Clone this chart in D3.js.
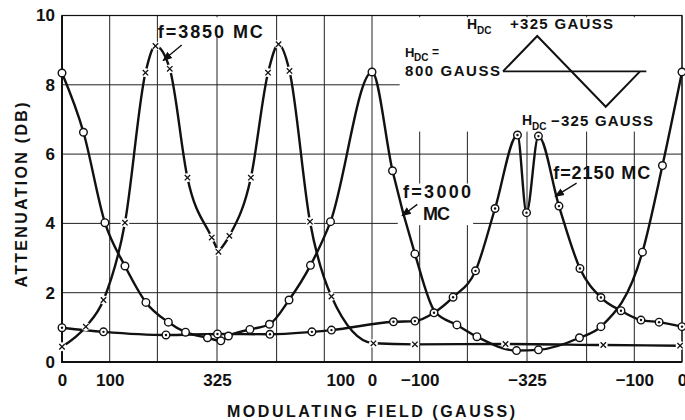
<!DOCTYPE html>
<html>
<head>
<meta charset="utf-8">
<script src="https://cdn.jsdelivr.net/npm/d3@7"></script>
<style>
  body { margin: 0; background: #fff; }
  svg { display: block; }
  text { font-family: "Liberation Sans", Arial, sans-serif; font-weight: bold; fill: #111; }
</style>
</head>
<body>
<div id="chart"></div>
<script>
// x = position along one modulation sweep: 0 -> +325 -> 0 -> -325 -> 0 gauss
const sweepTicks = [0, 100, 325, 550, 650, 750, 975, 1200, 1300]
const sweepTickLabels = ['0', '100', '325', '100', '0', '−100', '−325', '−100', '0']
const sweepGrid = [0, 100, 200, 325, 450, 550, 650, 750, 850, 975, 1100, 1200, 1300]
const attenTicks = [0, 2, 4, 6, 8, 10]
const attenGrid = [2, 4, 6, 8]

// f = 3850 MC (x marks)
const f3850Sweep = [0, 50, 87, 132, 175, 196, 226, 263, 314, 328, 351, 396, 432, 454, 477, 520, 565, 653, 740, 930, 1135, 1296]
const f3850Atten = [0.44, 1.02, 1.79, 4.02, 8.35, 9.12, 8.46, 5.32, 3.59, 3.18, 3.64, 5.32, 8.35, 9.17, 8.40, 4.05, 1.89, 0.54, 0.51, 0.52, 0.49, 0.47]

// f = 3000 MC (open circles)
const f3000Sweep = [0, 45, 90, 132, 176, 223, 259, 305, 333, 349, 394, 435, 476, 521, 563, 650, 693, 740, 828, 870, 953, 999, 1085, 1130, 1217, 1259, 1300]
const f3000Atten = [8.34, 6.63, 4.02, 2.77, 1.72, 1.15, 0.86, 0.70, 0.61, 0.75, 0.94, 1.09, 1.79, 2.79, 4.05, 8.37, 5.52, 3.12, 1.07, 0.73, 0.33, 0.35, 0.70, 1.02, 3.17, 5.67, 8.37]
// where the drawn 3000 MC trace passes between two far-apart points (no mark there)
const f3000TraceSweep = [782]
const f3000TraceAtten = [1.45]

// f = 2150 MC (dotted circles)
const f2150Sweep = [0, 87, 218, 326, 436, 524, 565, 695, 740, 780, 820, 867, 908, 955, 974, 999, 1042, 1086, 1130, 1172, 1214, 1252, 1300]
const f2150Atten = [0.99, 0.87, 0.78, 0.81, 0.80, 0.87, 0.92, 1.16, 1.18, 1.42, 1.87, 2.63, 4.43, 6.55, 4.31, 6.52, 4.50, 2.70, 1.86, 1.48, 1.21, 1.15, 1.02]

// inset: modulating waveform about H_DC = 800 gauss
const insetSweep = [0, 325, 975, 1300]
const insetField = [0, 325, -325, 0]

const width = 685, height = 420
const margin = { top: 15.5, right: 3, bottom: 58, left: 62 }
const ink = '#111'

const svg = d3.select('#chart').append('svg')
  .attr('width', width)
  .attr('height', height)

const x = d3.scaleLinear().domain([0, 1300]).range([margin.left, width - margin.right])
const y = d3.scaleLinear().domain([0, 10]).range([height - margin.bottom, margin.top])

// grid
const grid = svg.append('g').attr('stroke', '#222').attr('stroke-width', 1)
grid.selectAll('.hg').data(attenGrid).enter().append('line')
  .attr('x1', x(0)).attr('x2', x(1300))
  .attr('y1', d => y(d)).attr('y2', d => y(d))
grid.selectAll('.vg').data(sweepGrid).enter().append('line')
  .attr('x1', d => x(d)).attr('x2', d => x(d))
  .attr('y1', y(10)).attr('y2', y(0))

// white areas where the lettering sits on the original sheet
const masks = [
  { t0: 708, t1: 1298, v0: 6.65, v1: 9.95 },   // inset
  { t0: 216, t1: 420, v0: 9.4, v1: 9.95 },     // f=3850 MC
  { t0: 704, t1: 862, v0: 3.95, v1: 5.15 }     // f=3000 MC
]
svg.selectAll('.mask').data(masks).enter().append('rect')
  .attr('x', d => x(d.t0)).attr('width', d => x(d.t1) - x(d.t0))
  .attr('y', d => y(d.v1)).attr('height', d => y(d.v0) - y(d.v1))
  .attr('fill', '#fff')

// frame
svg.append('rect')
  .attr('x', x(0)).attr('y', y(10))
  .attr('width', x(1300) - x(0)).attr('height', y(0) - y(10))
  .attr('fill', 'none').attr('stroke', ink).attr('stroke-width', 1.2)
svg.append('path')
  .attr('d', `M${x(0)},${y(10)}V${y(0)}H${x(1300)}`)
  .attr('fill', 'none').attr('stroke', ink).attr('stroke-width', 2)

// axes (labels only, the grid carries the ticks)
const xAxis = d3.axisBottom(x).tickValues(sweepTicks)
  .tickFormat((d, i) => sweepTickLabels[i]).tickSize(0).tickPadding(12)
const yAxis = d3.axisLeft(y).tickValues(attenTicks)
  .tickFormat(d3.format('d')).tickSize(0).tickPadding(7)

const gx = svg.append('g').attr('transform', `translate(0,${y(0)})`).call(xAxis)
const gy = svg.append('g').attr('transform', `translate(${x(0)},0)`).call(yAxis)
gx.select('.domain').remove()
gy.select('.domain').remove()
gx.attr('font-family', null)
gy.attr('font-family', null)
gx.selectAll('text').attr('font-size', 17).attr('fill', ink)
gy.selectAll('text').attr('font-size', 17).attr('fill', ink)
// the lettered "100" on the return sweep sits a little right of its grid line
gx.selectAll('text').filter((d, i) => i === 3).attr('dx', 16)

svg.append('text')
  .attr('x', 371).attr('y', 417)
  .attr('text-anchor', 'middle').attr('font-size', 16)
  .attr('textLength', 288)
  .text('MODULATING  FIELD (GAUSS)')

svg.append('text')
  .attr('transform', 'translate(27,195) rotate(-90)')
  .attr('text-anchor', 'middle').attr('font-size', 16)
  .attr('textLength', 185)
  .text('ATTENUATION (DB)')

// curves
const zip = (ts, vs) => ts.map((t, i) => ({ t, v: vs[i] }))
const s3850 = zip(f3850Sweep, f3850Atten)
const s3000 = zip(f3000Sweep, f3000Atten)
const s2150 = zip(f2150Sweep, f2150Atten)
const s3000Path = s3000.concat(zip(f3000TraceSweep, f3000TraceAtten)).sort((a, b) => a.t - b.t)

const line = d3.line().x(d => x(d.t)).y(d => y(d.v)).curve(d3.curveMonotoneX)
const curves = svg.append('g').attr('fill', 'none').attr('stroke', ink).attr('stroke-width', 2.4)

// the 3850 MC trace has a cusp at +325 gauss
const cusp = f3850Sweep.indexOf(328)
curves.append('path').attr('d', line(s3850.slice(0, cusp + 1)))
curves.append('path').attr('d', line(s3850.slice(cusp)))
curves.append('path').attr('d', line(s3000Path))
curves.append('path').attr('d', line(s2150))

// markers
const r = 3.8
const xm = svg.append('g').selectAll('g').data(s3850).enter().append('g')
  .attr('transform', d => `translate(${x(d.t)},${y(d.v)})`)
xm.append('circle').attr('r', 4.4).attr('fill', '#fff')
xm.append('path').attr('d', 'M-2.7,-2.7L2.7,2.7M-2.7,2.7L2.7,-2.7')
  .attr('stroke', ink).attr('stroke-width', 1.3)

svg.append('g').selectAll('circle').data(s3000).enter().append('circle')
  .attr('cx', d => x(d.t)).attr('cy', d => y(d.v)).attr('r', r)
  .attr('fill', '#fff').attr('stroke', ink).attr('stroke-width', 1.4)

const dm = svg.append('g').selectAll('g').data(s2150).enter().append('g')
  .attr('transform', d => `translate(${x(d.t)},${y(d.v)})`)
dm.append('circle').attr('r', r).attr('fill', '#fff').attr('stroke', ink).attr('stroke-width', 1.4)
dm.append('circle').attr('r', 1.2).attr('fill', ink)

// curve labels with pointer arrows
const labels = [
  { text: 'f=3850 MC', t: 201, v: 9.35, w: 105 },
  { text: 'f=3000', t: 715, v: 4.73, w: 68 },
  { text: 'MC', t: 757, v: 4.10, w: 27 },
  { text: 'f=2150 MC', t: 1030, v: 5.28, w: 97 }
]
svg.selectAll('.lbl').data(labels).enter().append('text')
  .attr('x', d => x(d.t)).attr('y', d => y(d.v))
  .attr('font-size', 18).attr('textLength', d => d.w)
  .text(d => d.text)

const arrows = [
  { t0: 251, v0: 9.15, t1: 212, v1: 8.70 },
  { t0: 745, v0: 4.55, t1: 713, v1: 4.22 },
  { t0: 1079, v0: 5.16, t1: 1034, v1: 4.78 }
]
svg.append('defs').append('marker')
  .attr('id', 'head').attr('viewBox', '0 0 10 10')
  .attr('refX', 9).attr('refY', 5)
  .attr('markerWidth', 7).attr('markerHeight', 7)
  .attr('orient', 'auto')
  .append('path').attr('d', 'M0,1L10,5L0,9Z').attr('fill', ink)
svg.selectAll('.arw').data(arrows).enter().append('line')
  .attr('x1', d => x(d.t0)).attr('y1', d => y(d.v0))
  .attr('x2', d => x(d.t1)).attr('y2', d => y(d.v1))
  .attr('stroke', ink).attr('stroke-width', 1.4)
  .attr('marker-end', 'url(#head)')

// inset waveform
const ix = d3.scaleLinear().domain([0, 1300]).range([503, 640])
const iy = d3.scaleLinear().domain([-325, 325]).range([106.7, 36])
const inset = svg.append('g')
inset.append('line')
  .attr('x1', ix(0)).attr('x2', ix(1360))
  .attr('y1', iy(0)).attr('y2', iy(0))
  .attr('stroke', ink).attr('stroke-width', 1.6)
inset.append('path')
  .attr('d', d3.line().x(d => ix(d.t)).y(d => iy(d.h))(insetSweep.map((t, i) => ({ t, h: insetField[i] }))))
  .attr('fill', 'none').attr('stroke', ink).attr('stroke-width', 2)

const insetText = [
  { text: 'H', x: 467, y: 29, size: 14 },
  { text: 'DC', x: 477, y: 34, size: 10 },
  { text: '+325 GAUSS', x: 510, y: 29, size: 15, w: 103 },
  { text: 'H', x: 405, y: 57, size: 13 },
  { text: 'DC', x: 414, y: 61, size: 10 },
  { text: '=', x: 432, y: 56, size: 12 },
  { text: '800 GAUSS', x: 405, y: 76, size: 15, w: 95 },
  { text: 'H', x: 522, y: 125, size: 14 },
  { text: 'DC', x: 532, y: 130, size: 10 },
  { text: '−325 GAUSS', x: 551, y: 126, size: 15, w: 102 }
]
inset.selectAll('text').data(insetText).enter().append('text')
  .attr('x', d => d.x).attr('y', d => d.y)
  .attr('font-size', d => d.size)
  .attr('textLength', d => d.w || null)
  .text(d => d.text)
</script>
</body>
</html>
